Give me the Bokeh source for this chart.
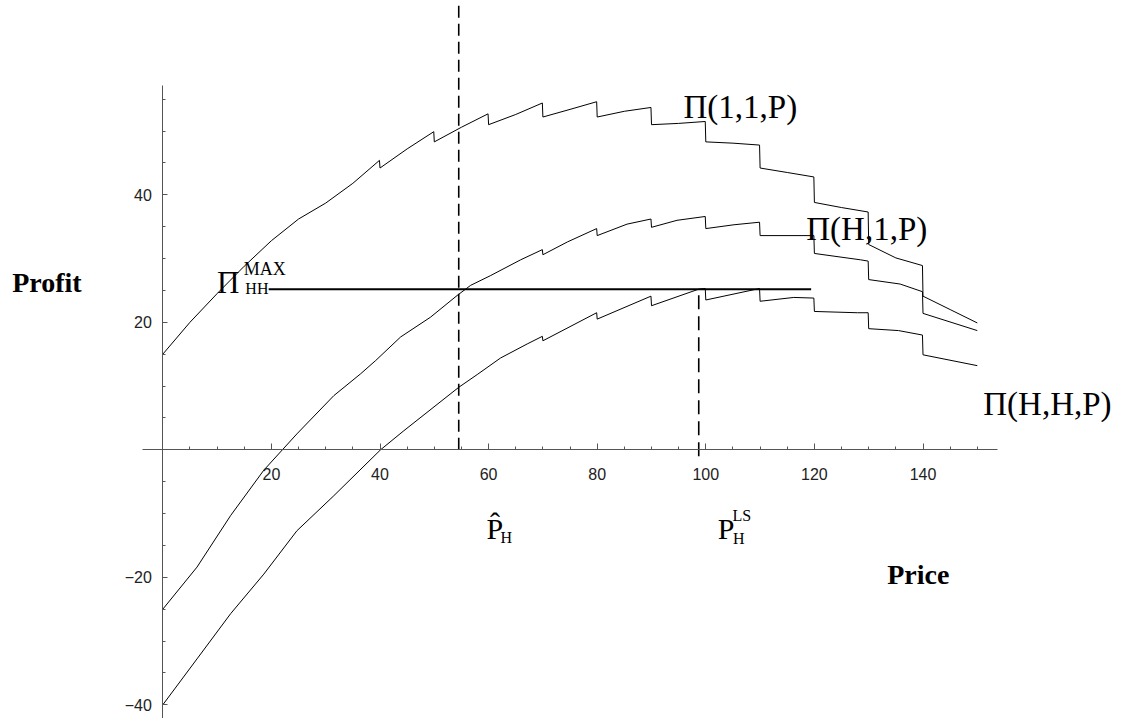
from bokeh.plotting import figure
from bokeh.models import Range1d, FixedTicker, Label
from bokeh.embed import file_html
from bokeh.resources import INLINE

# ---------------- data ----------------
# Pi(1,1,P)
p11_price = [0, 5, 10, 15, 20, 25, 30, 35, 39.9, 40, 45, 49.9, 50, 55, 59.9, 60, 65,
             69.9, 70, 75, 79.9, 80, 85, 89.9, 90, 95, 99.9, 100, 105, 109.9, 110, 115,
             119.9, 120, 125, 129.9, 130, 135, 139.9, 140, 145, 150]
p11_profit = [15.0, 20.0, 24.5, 28.8, 32.8, 36.2, 38.7, 41.8, 45.4, 44.2, 47.2, 49.9, 48.3,
              50.6, 52.7, 51.0, 52.6, 54.4, 52.2, 53.4, 54.6, 52.2, 53.1, 53.7, 51.0, 51.2,
              51.5, 48.3, 48.1, 47.8, 44.2, 43.5, 42.8, 38.8, 38.0, 37.3, 32.2, 30.1, 28.9,
              24.1, 22.0, 19.9]

# Pi(H,1,P)
ph1_price = [0, 6.3, 12.5, 18.6, 24.7, 31.5, 36.4, 39.2, 43.8, 49.3, 54.2, 56.7, 60.3,
             65.9, 69.9, 70, 74.5, 79.9, 80, 85.5, 89.9, 90, 94.7, 99.9, 100, 105.2, 109.9,
             110, 119.9, 120, 128.5, 129.9, 130, 135.8, 139.9, 140, 150]
ph1_profit = [-25.0, -18.4, -10.3, -3.2, 2.5, 8.5, 11.9, 14.0, 17.7, 20.8, 24.2, 25.8, 27.3,
              29.8, 31.4, 30.6, 32.6, 34.7, 33.6, 35.4, 36.2, 34.9, 36.0, 36.6, 34.7, 35.3,
              35.7, 33.6, 33.6, 30.8, 29.8, 29.6, 26.7, 26.0, 24.8, 21.4, 18.7]

# Pi(H,H,P)
phh_price = [0, 6.3, 12.5, 18.6, 24.7, 31.5, 40.1, 44.4, 54.5, 57.9, 62.2, 67.1, 69.9, 70,
             79.9, 80, 89.9, 90, 98.7, 99.9, 100, 108.8, 109.9, 110, 116.2, 119.9, 120,
             127.9, 129.9, 130, 135.5, 139.9, 140, 150]
phh_profit = [-40.0, -32.8, -25.7, -19.5, -12.7, -7.2, 0.0, 3.0, 9.8, 11.8, 14.4, 16.6, 17.8,
              17.1, 21.5, 20.5, 24.1, 22.6, 25.2, 25.3, 23.5, 25.1, 25.3, 23.3, 23.9, 23.8,
              21.7, 21.5, 21.5, 19.0, 18.7, 18.0, 14.9, 13.2]

PI_HH_MAX = 25.2          # level of the horizontal line
PI_MAX_FROM, PI_MAX_TO = 19.5, 119.4
P_HAT_H = 54.5            # first dashed line
P_LS_H = 98.7             # second dashed line

x_ticks = [20, 40, 60, 80, 100, 120, 140]
x_minor = list(range(0, 155, 5))
y_ticks = [-40, -20, 20, 40]
y_minor = list(range(-40, 60, 5))

# ---------------- figure ----------------
W, H = 1134, 718
SX, SY = 5.43, 6.375      # pixels per unit
x0 = -162.3 / SX
x1 = x0 + W / SX
y1 = 449.3 / SY
y0 = y1 - H / SY

p = figure(width=W, height=H, x_range=Range1d(x0, x1), y_range=Range1d(y0, y1),
           output_backend="svg", toolbar_location=None, min_border=0)
p.outline_line_color = None
p.grid.visible = False

for ax in (p.xaxis[0], p.yaxis[0]):
    ax.fixed_location = 0
    ax.axis_line_color = "#555555"
    ax.axis_line_width = 1
    ax.major_tick_line_color = "#555555"
    ax.minor_tick_line_color = "#555555"
    ax.major_tick_out = 0
    ax.minor_tick_out = 0
    ax.major_label_text_font = "Liberation Sans"
    ax.major_label_text_font_size = "16px"
    ax.major_label_text_color = "#222222"

p.xaxis[0].ticker = FixedTicker(ticks=x_ticks, minor_ticks=x_minor)
p.yaxis[0].ticker = FixedTicker(ticks=y_ticks, minor_ticks=y_minor)
p.xaxis[0].bounds = (-3.7, 153.7)
p.yaxis[0].bounds = (-42.5, 57.1)
p.xaxis[0].major_tick_in = 6
p.xaxis[0].minor_tick_in = 3
p.yaxis[0].major_tick_in = 5
p.yaxis[0].minor_tick_in = 3
p.xaxis[0].major_label_standoff = 18
p.yaxis[0].major_label_standoff = 11
p.xaxis[0].major_label_overrides = {t: str(t) for t in x_ticks}
p.yaxis[0].major_label_overrides = {t: ("\u2212" + str(-t) if t < 0 else str(t)) for t in y_ticks}

# curves
p.line(p11_price, p11_profit, line_color="black", line_width=1)
p.line(ph1_price, ph1_profit, line_color="black", line_width=1)
p.line(phh_price, phh_profit, line_color="black", line_width=1)

# max-profit line and dashed markers
p.line([PI_MAX_FROM, PI_MAX_TO], [PI_HH_MAX, PI_HH_MAX], line_color="black", line_width=2)
p.line([P_HAT_H, P_HAT_H], [0, 80], line_color="black", line_width=1.6, line_dash="12 6")
p.line([P_LS_H, P_LS_H], [-1, PI_HH_MAX], line_color="black", line_width=1.6, line_dash="14 7")

SERIF = "Liberation Serif"

def lab(x, y, text, size, style="normal"):
    p.add_layout(Label(x=x, y=y, text=text, text_font=SERIF, text_font_size=size,
                       text_font_style=style, text_color="black",
                       text_align="left", text_baseline="alphabetic"))

lab(95.9, 53.74, "\u03a0(1,1,P)", "33px")
lab(118.5, 34.71, "\u03a0(H,1,P)", "33px")
lab(151.1, 7.22, "\u03a0(H,H,P)", "33px")

lab(10.0, 26.29, "\u03a0", "31px")
lab(14.9, 28.39, "MAX", "18px")
lab(15.2, 25.25, "HH", "16px")

lab(59.6, -12.39, "P\u0302", "30px")
lab(62.2, -13.71, "H", "16px")

lab(102.2, -12.39, "P", "30px")
lab(104.9, -10.31, "LS", "16px")
lab(105.0, -13.96, "H", "16px")

lab(-27.73, 26.29, "Profit", "28px", "bold")
lab(133.4, -19.56, "Price", "28px", "bold")

open("out.html", "w").write(file_html(p, INLINE))
